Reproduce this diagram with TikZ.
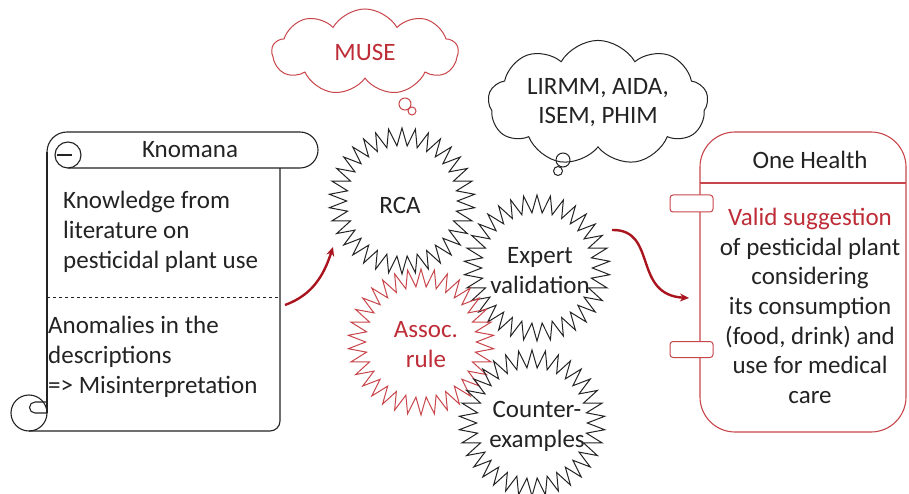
\documentclass[tikz,border=0pt]{standalone}
\usepackage{fontspec}
\setmainfont{Carlito}
\usetikzlibrary{shapes.symbols,shapes.geometric,arrows.meta}
\definecolor{redline}{RGB}{200,70,75}
\definecolor{redtext}{RGB}{190,45,55}
\definecolor{arrowred}{RGB}{170,20,30}
\definecolor{ink}{RGB}{35,35,35}
\tikzset{
  txt/.style={font=\fontsize{25}{30}\selectfont, text=ink, inner sep=0pt},
  scrollline/.style={draw=ink, line width=1.1pt},
  burst/.style={star, star points=34, star point ratio=1.32, minimum size=146pt,
     inner sep=0pt, draw=ink, line width=1pt},
  bursttext/.style={align=center, inner sep=0pt, font=\fontsize{25}{30}\selectfont, text=ink},
  thought/.style={cloud, cloud puffs=9, cloud puff arc=120, aspect=2.2, inner sep=0pt,
     line width=1pt, align=center, font=\fontsize{25}{29}\selectfont},
  bubble/.style={circle, inner sep=0pt, line width=1pt},
  flow/.style={-{Stealth[length=9pt,width=8pt]}, line width=2.4pt, draw=arrowred},
  tab/.style={draw=redline, fill=white, line width=1pt, rounded corners=3pt}
}
\begin{document}
\begin{tikzpicture}[x=1pt,y=1pt]
\useasboundingbox (0,0) rectangle (909,493);
\fill[white] (0,0) rectangle (909,493);

% ---------- scroll (Knomana) ----------
\draw[scrollline] (47,341) arc[start angle=180,end angle=90,radius=20] -- (300,361)
   arc[start angle=90,end angle=-90,radius=18] -- (68,325);
\draw[scrollline] (68,338) circle[radius=13];
\draw[scrollline] (57,338) -- (72,338);
\draw[scrollline] (47,341) -- (47,80);
\draw[scrollline] (280,325) -- (280,72) arc[start angle=0,end angle=-90,radius=10] -- (29,62);
\draw[scrollline] (29,80) circle[radius=18];
\draw[scrollline] (47,80) -- (35,80) arc[start angle=270,end angle=90,radius=5.5] -- (47,91);
\draw[dashed, draw=ink, line width=1pt] (47,196) -- (280,196);
\node[txt] (knomana) at (190,343) {Knomana};
\node[txt, anchor=west, align=left] (know) at (63,261)
  {Knowledge from\\literature on\\pesticidal plant use};
\node[txt, anchor=west, align=left] (anom) at (48,136)
  {Anomalies in the\\descriptions\\=> Misinterpretation};

% ---------- thought clouds ----------
\node[thought, draw=redline, text=redtext, minimum width=186pt, minimum height=86pt] (muse) at (365,441) {MUSE};
\node[bubble, draw=redline, minimum size=12pt] (mb1) at (405,389) {};
\node[bubble, draw=redline, minimum size=8pt] (mb2) at (412,382) {};

\node[thought, draw=ink, text=ink, minimum width=220pt, minimum height=90pt] (lab) at (598,390) {LIRMM, AIDA,\\ISEM, PHIM};
\node[bubble, draw=ink, minimum size=14pt] (lb1) at (563,333) {};
\node[bubble, draw=ink, minimum size=9pt] (lb2) at (558,322) {};

% ---------- starbursts ----------
\node[burst] (rca) at (402,292) {};
\node[bursttext] (rcat) at (400,288) {RCA};
\node[burst] (expert) at (537,225) {};
\node[bursttext] (expertt) at (540,222) {Expert\\validation};
\node[burst, draw=redline] (assoc) at (421,151) {};
\node[bursttext, text=redtext] (assoct) at (426,148) {Assoc.\\rule};
\node[burst] (counter) at (532,70) {};
\node[bursttext] (countert) at (537,67) {Counter-\\examples};

% ---------- One Health ----------
\draw[draw=redline, line width=1.1pt, rounded corners=35pt] (700,61) rectangle (906,361);
\draw[draw=redline, line width=1.1pt] (700,310) -- (906,310);
\node[tab, minimum width=43pt, minimum height=17pt] (tab1) at (691.5,289.5) {};
\node[tab, minimum width=43pt, minimum height=16pt] (tab2) at (691.5,143.5) {};
\node[txt] (oh) at (810,333) {One Health};
\node[txt, align=center, font=\fontsize{25}{29.7}\selectfont] (valid) at (810,187)
  {\textcolor{redtext}{Valid suggestion}\\of pesticidal plant\\considering\\its consumption\\(food, drink) and\\use for medical\\care};

% ---------- arrows ----------
\coordinate (a1s) at (285,188);
\coordinate (a1e) at (333,246);
\draw[flow] (a1s) to[out=20,in=-108] (a1e);
\coordinate (a2s) at (612,263);
\coordinate (a2e) at (689,195);
\draw[flow] (a2s) .. controls (658,264) and (632,198) .. (a2e);
\end{tikzpicture}
\end{document}
